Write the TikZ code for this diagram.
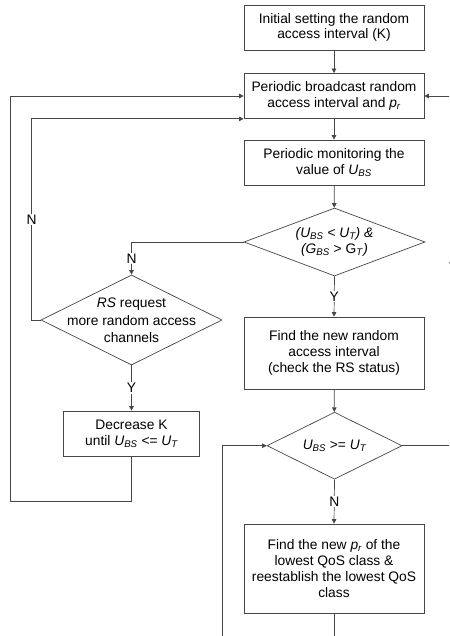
\documentclass[tikz,border=0pt]{standalone}
\usepackage{fontspec}
\setmainfont{Liberation Sans}
\usetikzlibrary{shapes.geometric,arrows.meta}
\definecolor{lc}{RGB}{70,70,70}
\newcommand{\UBS}{\textit{U\textsubscript{BS}}}
\newcommand{\UT}{\textit{U\textsubscript{T}}}
\newcommand{\myPr}{\textit{p\textsubscript{r}}}
\begin{document}
\begin{tikzpicture}[x=1pt,y=-1pt,
  every node/.style={font=\fontsize{13.8}{15.8}\selectfont},
  box/.style={draw=lc, line width=0.7pt, minimum width=180pt, align=center, inner sep=0pt},
  dia/.style={draw=lc, line width=0.7pt, diamond, inner sep=0pt},
  ln/.style={draw=lc, line width=0.7pt},
  arr/.style={ln, -{Triangle[length=4.5pt,width=4.5pt]}},
  lab/.style={fill=white, inner sep=1pt}]
\useasboundingbox (0,0) rectangle (449,636);

\node[box, minimum height=45pt] (b1) at (334,27.5) {Initial setting the random\\access interval (K)};
\node[box, minimum height=45pt] (b2) at (334,96) {Periodic broadcast random\\access interval and \myPr};
\node[box, minimum height=45pt] (b3) at (334,162.5) {Periodic monitoring the\\value of \UBS};
\node[dia, minimum width=181pt, minimum height=68pt] (d1) at (334.5,242) {};
\node[align=center] (t1) at (d1) {\textit{(U\textsubscript{BS} < U\textsubscript{T}) \&}\\\textit{(G\textsubscript{BS}} > G\textsubscript{\textit{T}}\textit{)}};
\node[box, minimum height=72pt] (b4) at (334,353) {Find the new random\\access interval\\(check the RS status)};
\node[dia, minimum width=135pt, minimum height=67pt] (d2) at (334.5,445.7) {};
\node (t2) at (d2) {\UBS{} >= \UT};
\node[box, minimum height=89pt] (b5) at (334,568.5) {Find the new \myPr{} of the\\lowest QoS class \&\\reestablish the lowest QoS\\class};
\node[dia, minimum width=181pt, minimum height=90pt] (d3) at (131.5,320) {};
\node[align=center, font=\fontsize{13.8}{17.3}\selectfont] (t3) at (131.5,320.5) {\textit{RS} request\\more random access\\channels};
\node[box, minimum width=136pt, minimum height=45pt] (b6) at (131.5,433.5) {Decrease K\\until \UBS{} <= \UT};

\coordinate (ol) at (10,501);
\coordinate (r1) at (449,96);
\coordinate (r2) at (449,445.7);
\coordinate (bt) at (334,636);
\coordinate (bl) at (222,636);

\draw[arr] (b1) -- (b2);
\draw[arr] (b2) -- (b3);
\draw[arr] (b3) -- (d1);
\draw[arr] (d1.south) -- node[lab]{Y} (b4.north);
\draw[arr] (b4) -- (d2);
\draw[arr] (d2.south) -- node[lab]{N} (b5.north);
\draw[arr] (d1.west) -| node[lab, pos=0.75]{N} (d3.north);
\draw[arr] (d3.south) -- node[lab]{Y} (b6.north);
\draw[arr] (d3.west) -- ++(-9,0) |- node[lab, pos=0.25]{N} (b2.south west);
\draw[arr] (b6.south) |- (ol) |- (b2.west);
\draw[arr] (r1) -- (b2.east);
\draw[ln] (d2.east) -- (r2);
\draw[ln] (b5.south) -- (bt);
\draw[arr] (bl) |- (d2.west);
\node (ys) at (453.5,268) {Y};
\end{tikzpicture}
\end{document}
